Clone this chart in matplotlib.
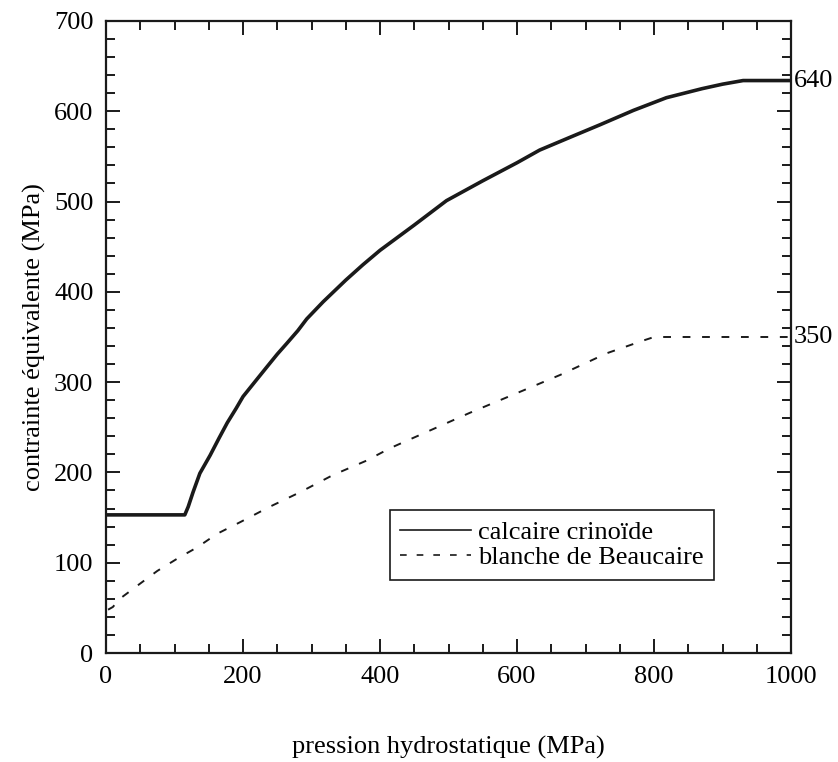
import numpy as np
import matplotlib
matplotlib.use('Agg')
import matplotlib.pyplot as plt
from matplotlib.ticker import MultipleLocator

plt.rc('font', family='Liberation Serif', size=19)

# calcaire crinoide (solid)
crin_p = [0, 115, 120, 127, 137, 152, 165, 177, 190, 200, 218, 235, 250, 264, 280, 293, 317,
          350, 375, 400, 450, 497, 550, 600, 633, 680, 721, 770, 818, 870, 900, 930, 1000]
crin_s = [153, 153, 162, 178, 199, 219, 238, 255, 271, 284, 301, 317, 331, 343, 357, 370, 389,
          413, 430, 446, 474, 501, 523, 543, 557, 572, 585, 601, 615, 625, 630, 634, 634]

# blanche de Beaucaire (dashed)
beau_p = [3, 10, 20, 50, 75, 105, 133, 162, 196, 239, 283, 331, 380, 415, 531, 594, 663, 731, 784, 800, 1000]
beau_s = [48, 51, 60, 77, 91, 105, 117, 132, 145, 162, 178, 197, 213, 227, 266, 286, 308, 332, 346, 350, 350]

fig = plt.figure(figsize=(8.38, 7.62), dpi=100)
ax = fig.add_axes([0.1265, 0.143, 0.8175, 0.8295])

ax.plot(crin_p, crin_s, color='#1a1a1a', lw=2.6, label='calcaire crinoïde')
ax.plot(beau_p, beau_s, color='#1a1a1a', lw=1.4, linestyle=(0, (4, 6)), label='blanche de Beaucaire')

ax.set_xlim(0, 1000)
ax.set_ylim(0, 700)
ax.xaxis.set_major_locator(MultipleLocator(200))
ax.xaxis.set_minor_locator(MultipleLocator(50))
ax.yaxis.set_major_locator(MultipleLocator(100))
ax.yaxis.set_minor_locator(MultipleLocator(20))
ax.tick_params(which='both', direction='in', top=True, right=True, width=1.4, color='#1a1a1a')
ax.tick_params(which='major', length=10, pad=9)
ax.tick_params(which='minor', length=6.5)
for s in ax.spines.values():
    s.set_linewidth(1.6)
    s.set_color('#1a1a1a')

# end values on the right
ax.text(1004, crin_s[-1], '640', va='center', ha='left', clip_on=False)
ax.text(1004, beau_s[-1], '350', va='center', ha='left', clip_on=False)

ax.set_xlabel('pression hydrostatique (MPa)', labelpad=35)
ax.set_ylabel('contrainte équivalente (MPa)', labelpad=6)

leg = ax.legend(loc='lower left', bbox_to_anchor=(0.414, 0.116), fancybox=False,
                edgecolor='#1a1a1a', framealpha=1, handlelength=2.7, handletextpad=0.25,
                borderpad=0.4, labelspacing=0.05, fontsize=19, borderaxespad=0)
leg.get_frame().set_linewidth(1.2)
for h in leg.get_lines():
    h.set_linewidth(1.2)

fig.savefig('out.png', dpi=100)
